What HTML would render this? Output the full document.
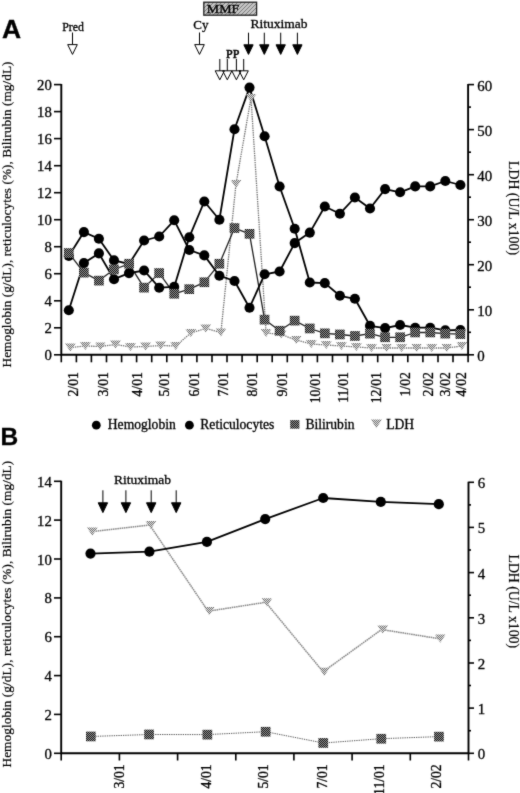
<!DOCTYPE html>
<html><head><meta charset="utf-8"><title>Figure</title>
<style>
html,body{margin:0;padding:0;background:#fff;}
svg{display:block;filter:grayscale(1);}
svg text{font-family:"Liberation Serif", serif;fill:#000;stroke:#000;stroke-width:0.3px;}
</style></head>
<body>
<svg width="520" height="793" viewBox="0 0 520 793">
<defs><filter id="soft" x="0" y="0" width="520" height="793" filterUnits="userSpaceOnUse" color-interpolation-filters="sRGB"><feConvolveMatrix order="3" kernelMatrix="0.02 0.08 0.02 0.08 0.6 0.08 0.02 0.08 0.02" edgeMode="duplicate" preserveAlpha="true"/></filter></defs>
<g filter="url(#soft)">
<rect width="520" height="793" fill="#fff"/>
<text x="0" y="0" transform="translate(1.9,38) scale(1.08,1.03)" style="font-family:'Liberation Sans',sans-serif" font-weight="bold" font-size="24.5">A</text>
<text x="0.5" y="445" style="font-family:'Liberation Sans',sans-serif" font-weight="bold" font-size="24.5">B</text>
<text x="62.3" y="31" font-size="11.8" text-anchor="start">Pred</text>
<line x1="72.5" y1="32.5" x2="72.5" y2="44.6" stroke="#000" stroke-width="1"/>
<path d="M67.7,44.6L77.3,44.6L72.5,54.400000000000006Z" fill="#fff" stroke="#000" stroke-width="1" stroke-linejoin="miter"/>
<text x="193.3" y="28.8" font-size="13" text-anchor="start">Cy</text>
<line x1="199.5" y1="32.5" x2="199.5" y2="44.6" stroke="#000" stroke-width="1"/>
<path d="M194.7,44.6L204.3,44.6L199.5,54.400000000000006Z" fill="#fff" stroke="#000" stroke-width="1" stroke-linejoin="miter"/>
<defs><pattern id="chkS" width="2" height="2" patternUnits="userSpaceOnUse"><rect width="2" height="2" fill="#9a9a9a"/><rect width="1" height="1" fill="#111"/><rect x="1" y="1" width="1" height="1" fill="#111"/></pattern><pattern id="chkT" width="2" height="2" patternUnits="userSpaceOnUse"><rect width="2" height="2" fill="#e4e4e4"/><rect width="1" height="1" fill="#707070"/><rect x="1" y="1" width="1" height="1" fill="#707070"/></pattern><pattern id="hatch" width="4" height="4" patternUnits="userSpaceOnUse"><rect width="4" height="4" fill="#c4c4c4"/><path d="M-1,1L1,-1M0,4L4,0M3,5L5,3" stroke="#7c7c7c" stroke-width="1"/></pattern></defs>
<rect x="203.8" y="2.2" width="52.8" height="13" fill="url(#hatch)" stroke="#222" stroke-width="1.3"/>
<text x="206.8" y="13.4" font-size="12.6" text-anchor="start" textLength="32.5" lengthAdjust="spacingAndGlyphs">MMF</text>
<text x="250.5" y="28.4" font-size="13.5" text-anchor="start" textLength="57" lengthAdjust="spacingAndGlyphs">Rituximab</text>
<line x1="248.5" y1="32.7" x2="248.5" y2="44.8" stroke="#000" stroke-width="1"/>
<path d="M243.85,44.8L253.15,44.8L248.5,54.4Z" fill="#000" stroke="#000" stroke-width="1" stroke-linejoin="miter"/>
<line x1="264.3" y1="32.7" x2="264.3" y2="44.8" stroke="#000" stroke-width="1"/>
<path d="M259.65000000000003,44.8L268.95,44.8L264.3,54.4Z" fill="#000" stroke="#000" stroke-width="1" stroke-linejoin="miter"/>
<line x1="280.7" y1="32.7" x2="280.7" y2="44.8" stroke="#000" stroke-width="1"/>
<path d="M276.05,44.8L285.34999999999997,44.8L280.7,54.4Z" fill="#000" stroke="#000" stroke-width="1" stroke-linejoin="miter"/>
<line x1="297.4" y1="32.7" x2="297.4" y2="44.8" stroke="#000" stroke-width="1"/>
<path d="M292.75,44.8L302.04999999999995,44.8L297.4,54.4Z" fill="#000" stroke="#000" stroke-width="1" stroke-linejoin="miter"/>
<text x="226.0" y="57.6" font-size="12" style="stroke-width:0.55px">PP</text>
<line x1="219.8" y1="59" x2="219.8" y2="70.8" stroke="#000" stroke-width="1"/>
<line x1="227.3" y1="59" x2="227.3" y2="70.8" stroke="#000" stroke-width="1"/>
<line x1="236.4" y1="59" x2="236.4" y2="70.8" stroke="#000" stroke-width="1"/>
<line x1="243.7" y1="59" x2="243.7" y2="70.8" stroke="#000" stroke-width="1"/>
<path d="M215.20000000000002,70.8L224.4,70.8L219.8,79.8Z" fill="none" stroke="#000" stroke-width="1"/>
<path d="M222.70000000000002,70.8L231.9,70.8L227.3,79.8Z" fill="none" stroke="#000" stroke-width="1"/>
<path d="M231.8,70.8L241.0,70.8L236.4,79.8Z" fill="none" stroke="#000" stroke-width="1"/>
<path d="M239.1,70.8L248.29999999999998,70.8L243.7,79.8Z" fill="none" stroke="#000" stroke-width="1"/>
<g stroke="#000" fill="none">
<path d="M61.3,84.0V354.8H468.1V84.0" stroke-width="1.9"/>
<line x1="54" y1="354.8" x2="61.3" y2="354.8" stroke-width="1.6"/>
<line x1="54" y1="327.8" x2="61.3" y2="327.8" stroke-width="1.6"/>
<line x1="54" y1="300.8" x2="61.3" y2="300.8" stroke-width="1.6"/>
<line x1="54" y1="273.7" x2="61.3" y2="273.7" stroke-width="1.6"/>
<line x1="54" y1="246.7" x2="61.3" y2="246.7" stroke-width="1.6"/>
<line x1="54" y1="219.7" x2="61.3" y2="219.7" stroke-width="1.6"/>
<line x1="54" y1="192.7" x2="61.3" y2="192.7" stroke-width="1.6"/>
<line x1="54" y1="165.7" x2="61.3" y2="165.7" stroke-width="1.6"/>
<line x1="54" y1="138.6" x2="61.3" y2="138.6" stroke-width="1.6"/>
<line x1="54" y1="111.6" x2="61.3" y2="111.6" stroke-width="1.6"/>
<line x1="54" y1="84.6" x2="61.3" y2="84.6" stroke-width="1.6"/>
<line x1="468.1" y1="354.8" x2="474" y2="354.8" stroke-width="1.6"/>
<line x1="468.1" y1="332.3" x2="471" y2="332.3" stroke-width="1.6"/>
<line x1="468.1" y1="309.8" x2="474" y2="309.8" stroke-width="1.6"/>
<line x1="468.1" y1="287.2" x2="471" y2="287.2" stroke-width="1.6"/>
<line x1="468.1" y1="264.7" x2="474" y2="264.7" stroke-width="1.6"/>
<line x1="468.1" y1="242.2" x2="471" y2="242.2" stroke-width="1.6"/>
<line x1="468.1" y1="219.7" x2="474" y2="219.7" stroke-width="1.6"/>
<line x1="468.1" y1="197.2" x2="471" y2="197.2" stroke-width="1.6"/>
<line x1="468.1" y1="174.7" x2="474" y2="174.7" stroke-width="1.6"/>
<line x1="468.1" y1="152.2" x2="471" y2="152.2" stroke-width="1.6"/>
<line x1="468.1" y1="129.6" x2="474" y2="129.6" stroke-width="1.6"/>
<line x1="468.1" y1="107.1" x2="471" y2="107.1" stroke-width="1.6"/>
<line x1="468.1" y1="84.6" x2="474" y2="84.6" stroke-width="1.6"/>
<line x1="61.3" y1="354.8" x2="61.3" y2="362.3" stroke-width="1.6"/>
<line x1="76.4" y1="354.8" x2="76.4" y2="362.3" stroke-width="1.6"/>
<line x1="91.4" y1="354.8" x2="91.4" y2="362.3" stroke-width="1.6"/>
<line x1="106.5" y1="354.8" x2="106.5" y2="362.3" stroke-width="1.6"/>
<line x1="121.6" y1="354.8" x2="121.6" y2="362.3" stroke-width="1.6"/>
<line x1="136.6" y1="354.8" x2="136.6" y2="362.3" stroke-width="1.6"/>
<line x1="151.7" y1="354.8" x2="151.7" y2="362.3" stroke-width="1.6"/>
<line x1="166.8" y1="354.8" x2="166.8" y2="362.3" stroke-width="1.6"/>
<line x1="181.8" y1="354.8" x2="181.8" y2="362.3" stroke-width="1.6"/>
<line x1="196.9" y1="354.8" x2="196.9" y2="362.3" stroke-width="1.6"/>
<line x1="212.0" y1="354.8" x2="212.0" y2="362.3" stroke-width="1.6"/>
<line x1="227.0" y1="354.8" x2="227.0" y2="362.3" stroke-width="1.6"/>
<line x1="242.1" y1="354.8" x2="242.1" y2="362.3" stroke-width="1.6"/>
<line x1="257.2" y1="354.8" x2="257.2" y2="362.3" stroke-width="1.6"/>
<line x1="272.2" y1="354.8" x2="272.2" y2="362.3" stroke-width="1.6"/>
<line x1="287.3" y1="354.8" x2="287.3" y2="362.3" stroke-width="1.6"/>
<line x1="302.4" y1="354.8" x2="302.4" y2="362.3" stroke-width="1.6"/>
<line x1="317.4" y1="354.8" x2="317.4" y2="362.3" stroke-width="1.6"/>
<line x1="332.5" y1="354.8" x2="332.5" y2="362.3" stroke-width="1.6"/>
<line x1="347.6" y1="354.8" x2="347.6" y2="362.3" stroke-width="1.6"/>
<line x1="362.6" y1="354.8" x2="362.6" y2="362.3" stroke-width="1.6"/>
<line x1="377.7" y1="354.8" x2="377.7" y2="362.3" stroke-width="1.6"/>
<line x1="392.8" y1="354.8" x2="392.8" y2="362.3" stroke-width="1.6"/>
<line x1="407.8" y1="354.8" x2="407.8" y2="362.3" stroke-width="1.6"/>
<line x1="422.9" y1="354.8" x2="422.9" y2="362.3" stroke-width="1.6"/>
<line x1="438.0" y1="354.8" x2="438.0" y2="362.3" stroke-width="1.6"/>
<line x1="453.0" y1="354.8" x2="453.0" y2="362.3" stroke-width="1.6"/>
<line x1="468.1" y1="354.8" x2="468.1" y2="362.3" stroke-width="1.6"/>
</g>
<text x="51.9" y="360.3" font-size="14.8" text-anchor="end">0</text>
<text x="51.9" y="333.3" font-size="14.8" text-anchor="end">2</text>
<text x="51.9" y="306.3" font-size="14.8" text-anchor="end">4</text>
<text x="51.9" y="279.2" font-size="14.8" text-anchor="end">6</text>
<text x="51.9" y="252.2" font-size="14.8" text-anchor="end">8</text>
<text x="51.9" y="225.2" font-size="14.8" text-anchor="end">10</text>
<text x="51.9" y="198.2" font-size="14.8" text-anchor="end">12</text>
<text x="51.9" y="171.2" font-size="14.8" text-anchor="end">14</text>
<text x="51.9" y="144.1" font-size="14.8" text-anchor="end">16</text>
<text x="51.9" y="117.1" font-size="14.8" text-anchor="end">18</text>
<text x="51.9" y="90.1" font-size="14.8" text-anchor="end">20</text>
<text x="477.3" y="361.0" font-size="14.9" text-anchor="start">0</text>
<text x="477.3" y="316.0" font-size="14.9" text-anchor="start">10</text>
<text x="477.3" y="270.9" font-size="14.9" text-anchor="start">20</text>
<text x="477.3" y="225.9" font-size="14.9" text-anchor="start">30</text>
<text x="477.3" y="180.9" font-size="14.9" text-anchor="start">40</text>
<text x="477.3" y="135.8" font-size="14.9" text-anchor="start">50</text>
<text x="477.3" y="90.8" font-size="14.9" text-anchor="start">60</text>
<text transform="translate(78.2,372.2) rotate(-90) scale(1.02,1.13)" font-size="13.4" text-anchor="end">2/01</text>
<text transform="translate(108.1,372.2) rotate(-90) scale(1.02,1.13)" font-size="13.4" text-anchor="end">3/01</text>
<text transform="translate(141.5,372.2) rotate(-90) scale(1.02,1.13)" font-size="13.4" text-anchor="end">4/01</text>
<text transform="translate(168.7,372.2) rotate(-90) scale(1.02,1.13)" font-size="13.4" text-anchor="end">5/01</text>
<text transform="translate(198.9,372.2) rotate(-90) scale(1.02,1.13)" font-size="13.4" text-anchor="end">6/01</text>
<text transform="translate(227.9,372.2) rotate(-90) scale(1.02,1.13)" font-size="13.4" text-anchor="end">7/01</text>
<text transform="translate(257.4,372.2) rotate(-90) scale(1.02,1.13)" font-size="13.4" text-anchor="end">8/01</text>
<text transform="translate(286.9,372.2) rotate(-90) scale(1.02,1.13)" font-size="13.4" text-anchor="end">9/01</text>
<text transform="translate(319.6,372.2) rotate(-90) scale(1.02,1.13)" font-size="13.4" text-anchor="end">10/01</text>
<text transform="translate(348.0,372.2) rotate(-90) scale(1.02,1.13)" font-size="13.4" text-anchor="end">11/01</text>
<text transform="translate(381.3,372.2) rotate(-90) scale(1.02,1.13)" font-size="13.4" text-anchor="end">12/01</text>
<text transform="translate(409.6,372.2) rotate(-90) scale(1.02,1.13)" font-size="13.4" text-anchor="end">1/02</text>
<text transform="translate(433.4,372.2) rotate(-90) scale(1.02,1.13)" font-size="13.4" text-anchor="end">2/02</text>
<text transform="translate(449.8,372.2) rotate(-90) scale(1.02,1.13)" font-size="13.4" text-anchor="end">3/02</text>
<text transform="translate(466.4,372.2) rotate(-90) scale(1.02,1.13)" font-size="13.4" text-anchor="end">4/02</text>
<text transform="translate(10.8,367.5) rotate(-90)" font-size="13.3" style="stroke-width:0.2px" textLength="306" lengthAdjust="spacing">Hemoglobin (g/dL), reticulocytes (%), Bilirubin (mg/dL)</text>
<text transform="translate(509.2,161) rotate(90)" font-size="13.8" style="stroke-width:0.15px" textLength="94" lengthAdjust="spacing">LDH (U/L x100)</text>
<polyline points="70.3,347.5 85.4,346.0 100.4,346.5 115.5,344.5 130.5,347.0 145.6,346.5 160.7,345.5 175.7,346.0 190.8,333.0 205.8,328.5 220.9,332.5 236.0,184.0 251.0,98.0 266.1,333.0 281.1,334.5 296.2,340.0 311.3,344.0 326.3,345.0 341.4,346.0 356.4,347.0 371.5,348.0 386.6,348.0 401.6,348.0 416.7,348.0 431.7,348.0 446.8,348.0 461.9,346.0" fill="none" stroke="#707070" stroke-width="1.3" stroke-dasharray="1.4,0.9" stroke-linejoin="round"/>
<polyline points="68.8,253.0 83.9,272.7 98.9,280.6 114.0,269.5 129.0,263.8 144.1,287.7 159.2,273.1 174.2,293.8 189.3,289.2 204.3,282.3 219.4,263.8 234.5,228.1 249.5,233.8 264.6,319.6 279.6,330.8 294.7,320.7 309.8,328.5 324.8,333.4 339.9,334.5 354.9,336.0 370.0,333.7 385.1,337.3 400.1,337.3 415.2,332.5 430.2,332.5 445.3,333.7 460.4,334.1" fill="none" stroke="#222" stroke-width="1.3" stroke-linejoin="round"/>
<polyline points="68.8,310.2 83.9,263.1 98.9,253.4 114.0,279.2 129.0,273.1 144.1,270.5 159.2,287.7 174.2,286.9 189.3,237.2 204.3,201.5 219.4,219.7 234.5,129.2 249.5,87.6 264.6,136.2 279.6,186.5 294.7,228.7 309.8,282.5 324.8,283.1 339.9,295.8 354.9,298.8 370.0,325.8 385.1,328.1 400.1,325.0 415.2,327.7 430.2,327.7 445.3,330.3 460.4,330.0" fill="none" stroke="#000" stroke-width="1.8" stroke-linejoin="round"/>
<polyline points="68.8,256.0 83.9,232.1 98.9,238.8 114.0,260.4 129.0,264.0 144.1,240.5 159.2,236.5 174.2,220.3 189.3,250.0 204.3,255.4 219.4,275.7 234.5,281.0 249.5,307.7 264.6,274.3 279.6,271.5 294.7,243.1 309.8,232.6 324.8,206.5 339.9,213.7 354.9,197.5 370.0,208.5 385.1,189.1 400.1,192.3 415.2,186.4 430.2,186.4 445.3,181.0 460.4,185.0" fill="none" stroke="#000" stroke-width="1.8" stroke-linejoin="round"/>
<path d="M65.0,343.4L75.6,343.4L70.3,351.6Z" fill="url(#chkT)"/>
<path d="M80.1,341.9L90.7,341.9L85.4,350.1Z" fill="url(#chkT)"/>
<path d="M95.1,342.4L105.7,342.4L100.4,350.6Z" fill="url(#chkT)"/>
<path d="M110.2,340.4L120.8,340.4L115.5,348.6Z" fill="url(#chkT)"/>
<path d="M125.2,342.9L135.8,342.9L130.5,351.1Z" fill="url(#chkT)"/>
<path d="M140.3,342.4L150.9,342.4L145.6,350.6Z" fill="url(#chkT)"/>
<path d="M155.4,341.4L166.0,341.4L160.7,349.6Z" fill="url(#chkT)"/>
<path d="M170.4,341.9L181.0,341.9L175.7,350.1Z" fill="url(#chkT)"/>
<path d="M185.5,328.9L196.1,328.9L190.8,337.1Z" fill="url(#chkT)"/>
<path d="M200.5,324.4L211.1,324.4L205.8,332.6Z" fill="url(#chkT)"/>
<path d="M215.6,328.4L226.2,328.4L220.9,336.6Z" fill="url(#chkT)"/>
<path d="M230.7,179.9L241.3,179.9L236.0,188.1Z" fill="url(#chkT)"/>
<path d="M245.7,93.9L256.3,93.9L251.0,102.1Z" fill="url(#chkT)"/>
<path d="M260.8,328.9L271.4,328.9L266.1,337.1Z" fill="url(#chkT)"/>
<path d="M275.8,330.4L286.4,330.4L281.1,338.6Z" fill="url(#chkT)"/>
<path d="M290.9,335.9L301.5,335.9L296.2,344.1Z" fill="url(#chkT)"/>
<path d="M306.0,339.9L316.6,339.9L311.3,348.1Z" fill="url(#chkT)"/>
<path d="M321.0,340.9L331.6,340.9L326.3,349.1Z" fill="url(#chkT)"/>
<path d="M336.1,341.9L346.7,341.9L341.4,350.1Z" fill="url(#chkT)"/>
<path d="M351.1,342.9L361.7,342.9L356.4,351.1Z" fill="url(#chkT)"/>
<path d="M366.2,343.9L376.8,343.9L371.5,352.1Z" fill="url(#chkT)"/>
<path d="M381.3,343.9L391.9,343.9L386.6,352.1Z" fill="url(#chkT)"/>
<path d="M396.3,343.9L406.9,343.9L401.6,352.1Z" fill="url(#chkT)"/>
<path d="M411.4,343.9L422.0,343.9L416.7,352.1Z" fill="url(#chkT)"/>
<path d="M426.4,343.9L437.0,343.9L431.7,352.1Z" fill="url(#chkT)"/>
<path d="M441.5,343.9L452.1,343.9L446.8,352.1Z" fill="url(#chkT)"/>
<path d="M456.6,341.9L467.2,341.9L461.9,350.1Z" fill="url(#chkT)"/>
<circle cx="68.8" cy="310.2" r="5.05" fill="#000"/>
<circle cx="83.9" cy="263.1" r="5.05" fill="#000"/>
<circle cx="98.9" cy="253.4" r="5.05" fill="#000"/>
<circle cx="114.0" cy="279.2" r="5.05" fill="#000"/>
<circle cx="129.0" cy="273.1" r="5.05" fill="#000"/>
<circle cx="144.1" cy="270.5" r="5.05" fill="#000"/>
<circle cx="159.2" cy="287.7" r="5.05" fill="#000"/>
<circle cx="174.2" cy="286.9" r="5.05" fill="#000"/>
<circle cx="189.3" cy="237.2" r="5.05" fill="#000"/>
<circle cx="204.3" cy="201.5" r="5.05" fill="#000"/>
<circle cx="219.4" cy="219.7" r="5.05" fill="#000"/>
<circle cx="234.5" cy="129.2" r="5.05" fill="#000"/>
<circle cx="249.5" cy="87.6" r="5.05" fill="#000"/>
<circle cx="264.6" cy="136.2" r="5.05" fill="#000"/>
<circle cx="279.6" cy="186.5" r="5.05" fill="#000"/>
<circle cx="294.7" cy="228.7" r="5.05" fill="#000"/>
<circle cx="309.8" cy="282.5" r="5.05" fill="#000"/>
<circle cx="324.8" cy="283.1" r="5.05" fill="#000"/>
<circle cx="339.9" cy="295.8" r="5.05" fill="#000"/>
<circle cx="354.9" cy="298.8" r="5.05" fill="#000"/>
<circle cx="370.0" cy="325.8" r="5.05" fill="#000"/>
<circle cx="385.1" cy="328.1" r="5.05" fill="#000"/>
<circle cx="400.1" cy="325.0" r="5.05" fill="#000"/>
<circle cx="415.2" cy="327.7" r="5.05" fill="#000"/>
<circle cx="430.2" cy="327.7" r="5.05" fill="#000"/>
<circle cx="445.3" cy="330.3" r="5.05" fill="#000"/>
<circle cx="460.4" cy="330.0" r="5.05" fill="#000"/>
<circle cx="68.8" cy="256.0" r="5.05" fill="#000"/>
<circle cx="83.9" cy="232.1" r="5.05" fill="#000"/>
<circle cx="98.9" cy="238.8" r="5.05" fill="#000"/>
<circle cx="114.0" cy="260.4" r="5.05" fill="#000"/>
<circle cx="129.0" cy="264.0" r="5.05" fill="#000"/>
<circle cx="144.1" cy="240.5" r="5.05" fill="#000"/>
<circle cx="159.2" cy="236.5" r="5.05" fill="#000"/>
<circle cx="174.2" cy="220.3" r="5.05" fill="#000"/>
<circle cx="189.3" cy="250.0" r="5.05" fill="#000"/>
<circle cx="204.3" cy="255.4" r="5.05" fill="#000"/>
<circle cx="219.4" cy="275.7" r="5.05" fill="#000"/>
<circle cx="234.5" cy="281.0" r="5.05" fill="#000"/>
<circle cx="249.5" cy="307.7" r="5.05" fill="#000"/>
<circle cx="264.6" cy="274.3" r="5.05" fill="#000"/>
<circle cx="279.6" cy="271.5" r="5.05" fill="#000"/>
<circle cx="294.7" cy="243.1" r="5.05" fill="#000"/>
<circle cx="309.8" cy="232.6" r="5.05" fill="#000"/>
<circle cx="324.8" cy="206.5" r="5.05" fill="#000"/>
<circle cx="339.9" cy="213.7" r="5.05" fill="#000"/>
<circle cx="354.9" cy="197.5" r="5.05" fill="#000"/>
<circle cx="370.0" cy="208.5" r="5.05" fill="#000"/>
<circle cx="385.1" cy="189.1" r="5.05" fill="#000"/>
<circle cx="400.1" cy="192.3" r="5.05" fill="#000"/>
<circle cx="415.2" cy="186.4" r="5.05" fill="#000"/>
<circle cx="430.2" cy="186.4" r="5.05" fill="#000"/>
<circle cx="445.3" cy="181.0" r="5.05" fill="#000"/>
<circle cx="460.4" cy="185.0" r="5.05" fill="#000"/>
<rect x="63.9" y="248.2" width="9.7" height="9.7" fill="url(#chkS)"/>
<rect x="79.0" y="267.8" width="9.7" height="9.7" fill="url(#chkS)"/>
<rect x="94.1" y="275.8" width="9.7" height="9.7" fill="url(#chkS)"/>
<rect x="109.1" y="264.6" width="9.7" height="9.7" fill="url(#chkS)"/>
<rect x="124.2" y="258.9" width="9.7" height="9.7" fill="url(#chkS)"/>
<rect x="139.2" y="282.8" width="9.7" height="9.7" fill="url(#chkS)"/>
<rect x="154.3" y="268.2" width="9.7" height="9.7" fill="url(#chkS)"/>
<rect x="169.4" y="288.9" width="9.7" height="9.7" fill="url(#chkS)"/>
<rect x="184.4" y="284.3" width="9.7" height="9.7" fill="url(#chkS)"/>
<rect x="199.5" y="277.4" width="9.7" height="9.7" fill="url(#chkS)"/>
<rect x="214.5" y="258.9" width="9.7" height="9.7" fill="url(#chkS)"/>
<rect x="229.6" y="223.2" width="9.7" height="9.7" fill="url(#chkS)"/>
<rect x="244.7" y="229.0" width="9.7" height="9.7" fill="url(#chkS)"/>
<rect x="259.7" y="314.8" width="9.7" height="9.7" fill="url(#chkS)"/>
<rect x="274.8" y="325.9" width="9.7" height="9.7" fill="url(#chkS)"/>
<rect x="289.8" y="315.8" width="9.7" height="9.7" fill="url(#chkS)"/>
<rect x="304.9" y="323.6" width="9.7" height="9.7" fill="url(#chkS)"/>
<rect x="320.0" y="328.5" width="9.7" height="9.7" fill="url(#chkS)"/>
<rect x="335.0" y="329.6" width="9.7" height="9.7" fill="url(#chkS)"/>
<rect x="350.1" y="331.1" width="9.7" height="9.7" fill="url(#chkS)"/>
<rect x="365.1" y="328.8" width="9.7" height="9.7" fill="url(#chkS)"/>
<rect x="380.2" y="332.4" width="9.7" height="9.7" fill="url(#chkS)"/>
<rect x="395.3" y="332.4" width="9.7" height="9.7" fill="url(#chkS)"/>
<rect x="410.3" y="327.6" width="9.7" height="9.7" fill="url(#chkS)"/>
<rect x="425.4" y="327.6" width="9.7" height="9.7" fill="url(#chkS)"/>
<rect x="440.4" y="328.8" width="9.7" height="9.7" fill="url(#chkS)"/>
<rect x="455.5" y="329.2" width="9.7" height="9.7" fill="url(#chkS)"/>
<circle cx="96.3" cy="425.2" r="4.4" fill="#000"/>
<text x="107.8" y="429.3" font-size="13.6" text-anchor="start">Hemoglobin</text>
<circle cx="189.4" cy="425.2" r="4.4" fill="#000"/>
<text x="200.3" y="429.3" font-size="13.6" text-anchor="start">Reticulocytes</text>
<rect x="290.2" y="420.1" width="9.2" height="8.6" fill="url(#chkS)"/>
<text x="305.4" y="429.3" font-size="13.6" text-anchor="start">Bilirubin</text>
<path d="M371.0,419.5L381.8,419.5L376.4,428.2Z" fill="url(#chkT)"/>
<text x="386.2" y="429.3" font-size="13.6" text-anchor="start">LDH</text>
<g stroke="#000" fill="none">
<path d="M61.2,480.67999999999995V753.3H468.5V481.67999999999995" stroke-width="1.9"/>
<line x1="54" y1="753.3" x2="61.2" y2="753.3" stroke-width="1.6"/>
<line x1="54" y1="714.4" x2="61.2" y2="714.4" stroke-width="1.6"/>
<line x1="54" y1="675.6" x2="61.2" y2="675.6" stroke-width="1.6"/>
<line x1="54" y1="636.7" x2="61.2" y2="636.7" stroke-width="1.6"/>
<line x1="54" y1="597.9" x2="61.2" y2="597.9" stroke-width="1.6"/>
<line x1="54" y1="559.0" x2="61.2" y2="559.0" stroke-width="1.6"/>
<line x1="54" y1="520.1" x2="61.2" y2="520.1" stroke-width="1.6"/>
<line x1="54" y1="481.3" x2="61.2" y2="481.3" stroke-width="1.6"/>
<line x1="468.5" y1="753.3" x2="474" y2="753.3" stroke-width="1.6"/>
<line x1="468.5" y1="730.7" x2="471" y2="730.7" stroke-width="1.6"/>
<line x1="468.5" y1="708.1" x2="474" y2="708.1" stroke-width="1.6"/>
<line x1="468.5" y1="685.5" x2="471" y2="685.5" stroke-width="1.6"/>
<line x1="468.5" y1="663.0" x2="474" y2="663.0" stroke-width="1.6"/>
<line x1="468.5" y1="640.4" x2="471" y2="640.4" stroke-width="1.6"/>
<line x1="468.5" y1="617.8" x2="474" y2="617.8" stroke-width="1.6"/>
<line x1="468.5" y1="595.2" x2="471" y2="595.2" stroke-width="1.6"/>
<line x1="468.5" y1="572.6" x2="474" y2="572.6" stroke-width="1.6"/>
<line x1="468.5" y1="550.0" x2="471" y2="550.0" stroke-width="1.6"/>
<line x1="468.5" y1="527.4" x2="474" y2="527.4" stroke-width="1.6"/>
<line x1="468.5" y1="504.9" x2="471" y2="504.9" stroke-width="1.6"/>
<line x1="468.5" y1="482.3" x2="474" y2="482.3" stroke-width="1.6"/>
<line x1="61.2" y1="753.3" x2="61.2" y2="760.5" stroke-width="1.6"/>
<line x1="119.4" y1="753.3" x2="119.4" y2="760.5" stroke-width="1.6"/>
<line x1="177.6" y1="753.3" x2="177.6" y2="760.5" stroke-width="1.6"/>
<line x1="235.8" y1="753.3" x2="235.8" y2="760.5" stroke-width="1.6"/>
<line x1="293.9" y1="753.3" x2="293.9" y2="760.5" stroke-width="1.6"/>
<line x1="352.1" y1="753.3" x2="352.1" y2="760.5" stroke-width="1.6"/>
<line x1="410.3" y1="753.3" x2="410.3" y2="760.5" stroke-width="1.6"/>
<line x1="468.5" y1="753.3" x2="468.5" y2="760.5" stroke-width="1.6"/>
</g>
<text x="51.9" y="758.8" font-size="14.8" text-anchor="end">0</text>
<text x="51.9" y="719.9" font-size="14.8" text-anchor="end">2</text>
<text x="51.9" y="681.1" font-size="14.8" text-anchor="end">4</text>
<text x="51.9" y="642.2" font-size="14.8" text-anchor="end">6</text>
<text x="51.9" y="603.4" font-size="14.8" text-anchor="end">8</text>
<text x="51.9" y="564.5" font-size="14.8" text-anchor="end">10</text>
<text x="51.9" y="525.6" font-size="14.8" text-anchor="end">12</text>
<text x="51.9" y="486.8" font-size="14.8" text-anchor="end">14</text>
<text x="477.8" y="759.2" font-size="14.9" text-anchor="start">0</text>
<text x="477.8" y="714.0" font-size="14.9" text-anchor="start">1</text>
<text x="477.8" y="668.9" font-size="14.9" text-anchor="start">2</text>
<text x="477.8" y="623.7" font-size="14.9" text-anchor="start">3</text>
<text x="477.8" y="578.5" font-size="14.9" text-anchor="start">4</text>
<text x="477.8" y="533.3" font-size="14.9" text-anchor="start">5</text>
<text x="477.8" y="488.2" font-size="14.9" text-anchor="start">6</text>
<text transform="translate(124.1,764.3) rotate(-90) scale(1.02,1.13)" font-size="13.4" text-anchor="end">3/01</text>
<text transform="translate(210.7,764.3) rotate(-90) scale(1.02,1.13)" font-size="13.4" text-anchor="end">4/01</text>
<text transform="translate(267.8,764.3) rotate(-90) scale(1.02,1.13)" font-size="13.4" text-anchor="end">5/01</text>
<text transform="translate(326.5,764.3) rotate(-90) scale(1.02,1.13)" font-size="13.4" text-anchor="end">7/01</text>
<text transform="translate(384.2,764.3) rotate(-90) scale(1.02,1.13)" font-size="13.4" text-anchor="end">11/01</text>
<text transform="translate(441.2,764.3) rotate(-90) scale(1.02,1.13)" font-size="13.4" text-anchor="end">2/02</text>
<text transform="translate(11.2,767.5) rotate(-90)" font-size="13.3" style="stroke-width:0.2px" textLength="306.7" lengthAdjust="spacing">Hemoglobin (g/dL), reticulocytes (%), Bilirubin (mg/dL)</text>
<text transform="translate(509.2,554.5) rotate(90)" font-size="13.8" style="stroke-width:0.15px" textLength="93.5" lengthAdjust="spacing">LDH (U/L x100)</text>
<text x="114" y="484.3" font-size="13.5" text-anchor="start" textLength="57" lengthAdjust="spacingAndGlyphs">Rituximab</text>
<line x1="102.9" y1="490.3" x2="102.9" y2="502.8" stroke="#000" stroke-width="1"/>
<path d="M98.2,502.8L107.60000000000001,502.8L102.9,512.6Z" fill="#000" stroke="#000" stroke-width="1" stroke-linejoin="miter"/>
<line x1="125.9" y1="490.3" x2="125.9" y2="502.8" stroke="#000" stroke-width="1"/>
<path d="M121.2,502.8L130.6,502.8L125.9,512.6Z" fill="#000" stroke="#000" stroke-width="1" stroke-linejoin="miter"/>
<line x1="151.2" y1="490.3" x2="151.2" y2="502.8" stroke="#000" stroke-width="1"/>
<path d="M146.5,502.8L155.89999999999998,502.8L151.2,512.6Z" fill="#000" stroke="#000" stroke-width="1" stroke-linejoin="miter"/>
<line x1="176.2" y1="490.3" x2="176.2" y2="502.8" stroke="#000" stroke-width="1"/>
<path d="M171.5,502.8L180.89999999999998,502.8L176.2,512.6Z" fill="#000" stroke="#000" stroke-width="1" stroke-linejoin="miter"/>
<polyline points="91.1,531.7 149.7,525.0 208.1,611.2 265.7,602.3 323.1,671.8 381.6,629.5 439.1,638.7" fill="none" stroke="#888" stroke-width="1.5" stroke-dasharray="1.6,0.6" stroke-linejoin="round"/>
<polyline points="90.8,736.5 149.0,734.5 207.3,734.6 265.6,731.7 323.3,743.0 381.3,738.7 439.0,736.6" fill="none" stroke="#555" stroke-width="1" stroke-dasharray="1.3,1" stroke-linejoin="round"/>
<polyline points="90.5,553.6 149.4,551.7 206.9,541.9 265.2,519.1 323.2,498.0 380.8,501.9 438.8,504.2" fill="none" stroke="#000" stroke-width="1.8" stroke-linejoin="round"/>
<path d="M87.0,527.6L97.6,527.6L92.3,535.8Z" fill="url(#chkT)"/>
<path d="M145.6,520.9L156.2,520.9L150.9,529.1Z" fill="url(#chkT)"/>
<path d="M204.0,607.1L214.6,607.1L209.3,615.3Z" fill="url(#chkT)"/>
<path d="M261.6,598.2L272.2,598.2L266.9,606.4Z" fill="url(#chkT)"/>
<path d="M319.0,667.7L329.6,667.7L324.3,675.9Z" fill="url(#chkT)"/>
<path d="M377.5,625.4L388.1,625.4L382.8,633.6Z" fill="url(#chkT)"/>
<path d="M435.0,634.6L445.6,634.6L440.3,642.8Z" fill="url(#chkT)"/>
<circle cx="90.5" cy="553.6" r="5.1" fill="#000"/>
<circle cx="149.4" cy="551.7" r="5.1" fill="#000"/>
<circle cx="206.9" cy="541.9" r="5.1" fill="#000"/>
<circle cx="265.2" cy="519.1" r="5.1" fill="#000"/>
<circle cx="323.2" cy="498.0" r="5.1" fill="#000"/>
<circle cx="380.8" cy="501.9" r="5.1" fill="#000"/>
<circle cx="438.8" cy="504.2" r="5.1" fill="#000"/>
<rect x="86.0" y="731.6" width="9.7" height="9.7" fill="url(#chkS)"/>
<rect x="144.2" y="729.6" width="9.7" height="9.7" fill="url(#chkS)"/>
<rect x="202.5" y="729.8" width="9.7" height="9.7" fill="url(#chkS)"/>
<rect x="260.8" y="726.9" width="9.7" height="9.7" fill="url(#chkS)"/>
<rect x="318.4" y="738.1" width="9.7" height="9.7" fill="url(#chkS)"/>
<rect x="376.4" y="733.9" width="9.7" height="9.7" fill="url(#chkS)"/>
<rect x="434.1" y="731.8" width="9.7" height="9.7" fill="url(#chkS)"/>
</g>
</svg>
</body></html>
